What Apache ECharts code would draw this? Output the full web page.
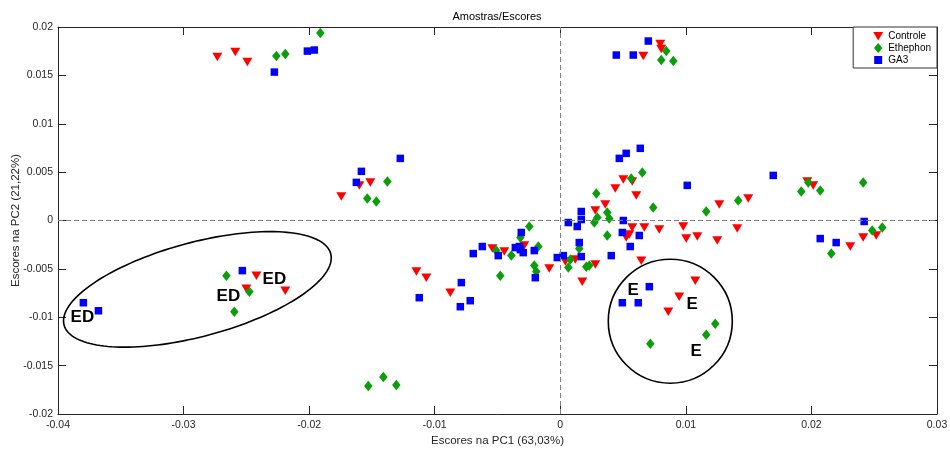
<!DOCTYPE html>
<html><head><meta charset="utf-8">
<script src="https://cdn.jsdelivr.net/npm/echarts@6/dist/echarts.min.js"></script>
<style>html,body{margin:0;padding:0;background:#fff}#c{width:950px;height:449px}</style>
</head><body><div id="c"></div>
<script>
// ---- data ----
const xTicks = [-0.04, -0.03, -0.02, -0.01, 0, 0.01, 0.02, 0.03];
const yTicks = [-0.02, -0.015, -0.01, -0.005, 0, 0.005, 0.01, 0.015, 0.02];
const seriesNames = ['Controle', 'Ethephon', 'GA3'];

const controle = [
  [-0.02731, 0.01689], [-0.02588, 0.01741], [-0.02492, 0.01637],
  [0.00796, 0.01824], [0.00804, 0.01772], [0.00661, 0.01699],
  [-0.01744, 0.00249], [-0.01600, 0.00363], [-0.01513, 0.00394],
  [-0.02500, -0.00705], [-0.02420, -0.00570], [-0.02190, -0.00725],
  [-0.01146, -0.00528], [-0.01067, -0.00591], [-0.00876, -0.00746],
  [-0.00541, -0.00290], [-0.00446, -0.00321], [-0.00287, -0.00259],
  [-0.00088, -0.00497], [0.00040, -0.00425], [0.00119, -0.00404],
  [0.00175, -0.00632], [0.00279, -0.00456], [0.00279, 0.00104],
  [0.00358, 0.00166], [0.00438, 0.00332], [0.00502, 0.00425],
  [0.00573, 0.00404], [0.00605, 0.00259], [0.00573, -0.00073],
  [0.00549, -0.00145], [0.00525, -0.00176], [0.00669, -0.00073],
  [0.00788, -0.00093], [0.00979, -0.00062], [0.01003, -0.00187],
  [0.01091, -0.00166], [0.01250, -0.00207], [0.01266, 0.00166],
  [0.01409, -0.00083], [0.01497, 0.00228], [0.01967, 0.00404],
  [0.02014, 0.00363], [0.02309, -0.00269], [0.02412, -0.00176],
  [0.02516, -0.00155], [0.00645, -0.00415], [0.01075, -0.00622],
  [0.00947, -0.00788], [0.00860, -0.00943]
];
const ethephon = [
  [-0.02261, 0.01699], [-0.02190, 0.01720], [-0.01911, 0.01938],
  [0.00844, 0.01751], [0.00804, 0.01658], [0.00900, 0.01648],
  [-0.01377, 0.00404], [-0.01537, 0.00228], [-0.01465, 0.00197],
  [-0.02659, -0.00570], [-0.02476, -0.00736], [-0.02596, -0.00943],
  [-0.01529, -0.01710], [-0.01409, -0.01617], [-0.01306, -0.01699],
  [-0.00478, -0.00570], [-0.00510, -0.00311], [-0.00390, -0.00363],
  [-0.00318, -0.00176], [-0.00247, -0.00062], [-0.00175, -0.00269],
  [-0.00207, -0.00466], [-0.00191, -0.00528], [0.00080, -0.00404],
  [0.00064, -0.00487], [0.00151, -0.00290], [0.00207, -0.00477],
  [0.00287, 0.00280], [0.00374, 0.00083], [0.00390, 0.00021],
  [0.00295, 0.00031], [0.00271, -0.00021], [0.00374, -0.00155],
  [0.00565, 0.00435], [0.00653, 0.00497], [0.00740, 0.00135],
  [0.01162, 0.00093], [0.01417, 0.00207], [0.01919, 0.00301],
  [0.01975, 0.00394], [0.02070, 0.00311], [0.02412, 0.00394],
  [0.02484, -0.00104], [0.02564, -0.00073], [0.02158, -0.00342],
  [0.00717, -0.01275], [0.01162, -0.01181], [0.01234, -0.01067],
  [0.00231, -0.00466]
];
const ga3 = [
  [-0.02277, 0.01534], [-0.02014, 0.01751], [-0.01959, 0.01762],
  [0.00701, 0.01855], [0.00446, 0.01710], [0.00581, 0.01710],
  [-0.01274, 0.00642], [-0.01584, 0.00508], [-0.01624, 0.00394],
  [-0.03798, -0.00850], [-0.03678, -0.00933], [-0.02532, -0.00518],
  [-0.01123, -0.00798], [-0.00788, -0.00642], [-0.00796, -0.00891],
  [-0.00717, -0.00829], [-0.00693, -0.00342], [-0.00621, -0.00269],
  [-0.00494, -0.00363], [-0.00358, -0.00280], [-0.00326, -0.00269],
  [-0.00311, -0.00124], [-0.00318, -0.00301], [-0.00295, -0.00332],
  [-0.00207, -0.00311], [-0.00199, -0.00591], [-0.00024, -0.00383],
  [0.00024, -0.00363], [0.00151, -0.00228], [0.00167, -0.00373],
  [0.00064, -0.00021], [0.00135, -0.00062], [0.00167, 0.00093],
  [0.00167, 0.00010], [0.00406, -0.00363], [0.00502, 0.00000],
  [0.00494, -0.00124], [0.00629, -0.00155], [0.00557, -0.00269],
  [0.00470, 0.00642], [0.00525, 0.00694], [0.00637, 0.00746],
  [0.01011, 0.00363], [0.01696, 0.00466], [0.02070, -0.00187],
  [0.02197, -0.00228], [0.02420, -0.00010], [0.00709, -0.00684],
  [0.00494, -0.00850], [0.00621, -0.00850]
];
// annotation labels (data coordinates)
const annotText = ['ED', 'ED', 'ED', 'E', 'E', 'E'];
const annotX = [-0.03806, -0.02643, -0.02277, 0.00581, 0.01051, 0.01083];
const annotY = [-0.01005, -0.00788, -0.00611, -0.00725, -0.00870, -0.01347];
// ---- end data ----

const FONT = 'Liberation Sans, Arial, Helvetica, sans-serif';
const AX = '#262626';
const triPath = 'path://M0,0L10,0L5,9Z';
const fmt = v => String(parseFloat(Number(v).toFixed(3)));

const chart = echarts.init(document.getElementById('c'), null, {renderer: 'canvas'});
const xAxisBase = {
  type: 'value', min: xTicks[0], max: xTicks[xTicks.length - 1], interval: 0.01,
  axisLine: {show: true, onZero: false, lineStyle: {color: AX, width: 1}},
  axisTick: {show: true, inside: true, length: 8, lineStyle: {color: AX}},
  splitLine: {show: false}
};
const yAxisBase = {
  type: 'value', min: yTicks[0], max: yTicks[yTicks.length - 1], interval: 0.005,
  axisLine: {show: true, onZero: false, lineStyle: {color: AX, width: 1}},
  axisTick: {show: true, inside: true, length: 8, lineStyle: {color: AX}},
  splitLine: {show: false}
};
const option = {
  animation: false,
  backgroundColor: '#fff',
  title: {
    text: 'Amostras/Escores', left: 497, top: 11, padding: 0, textAlign: 'center',
    textStyle: {fontFamily: FONT, fontSize: 11, fontWeight: 'normal', color: '#000'}
  },
  grid: {left: 58, right: 13, top: 27, bottom: 35, containLabel: false, outerBoundsMode: 'none'},
  legend: {
    orient: 'vertical', right: 13, top: 27, itemWidth: 10, itemHeight: 10, itemGap: 2,
    padding: [4, 6, 3, 20], borderColor: '#333', borderWidth: 1, backgroundColor: '#fff',
    borderRadius: 0,
    textStyle: {fontFamily: FONT, fontSize: 10, color: '#000'},
    data: [
      {name: seriesNames[0], icon: 'path://M0,0M10,10M0,1L10,1L5,9.5Z'},
      {name: seriesNames[1], icon: 'path://M0,0M10,10M5,0L9.2,5L5,10L0.8,5Z'},
      {name: seriesNames[2], icon: 'path://M0,0M10,10M1,1L9,1L9,9L1,9Z'}
    ]
  },
  xAxis: [
    Object.assign({}, xAxisBase, {
      position: 'bottom',
      name: 'Escores na PC1 (63,03%)', nameLocation: 'middle', nameGap: 21, nameMoveOverlap: false,
      nameTextStyle: {fontFamily: FONT, fontSize: 11.5, color: AX},
      axisLabel: {show: true, margin: 6, fontFamily: FONT, fontSize: 10.5, color: AX, formatter: fmt}
    }),
    Object.assign({}, xAxisBase, {position: 'top', axisLabel: {show: false}})
  ],
  yAxis: [
    Object.assign({}, yAxisBase, {
      position: 'left',
      name: 'Escores na PC2 (21,22%)', nameLocation: 'middle', nameGap: 36, nameMoveOverlap: false,
      nameTextStyle: {fontFamily: FONT, fontSize: 11.5, color: AX},
      axisLabel: {show: true, margin: 5, fontFamily: FONT, fontSize: 10.5, color: AX, formatter: fmt}
    }),
    Object.assign({}, yAxisBase, {position: 'right', axisLabel: {show: false}})
  ],
  series: [
    {
      name: seriesNames[0], type: 'scatter', data: controle,
      symbol: triPath, symbolSize: [10, 8.5], itemStyle: {color: '#ff0000', opacity: 1},
      markLine: {
        silent: true, symbol: ['none', 'none'], label: {show: false},
        lineStyle: {color: '#808080', type: [5, 3], width: 1},
        emphasis: {disabled: true},
        data: [{xAxis: 0}, {yAxis: 0}]
      }
    },
    {
      name: seriesNames[1], type: 'scatter', data: ethephon,
      symbol: 'diamond', symbolSize: [8.5, 10.5], itemStyle: {color: '#0a9f0a', opacity: 1}
    },
    {
      name: seriesNames[2], type: 'scatter', data: ga3,
      symbol: 'rect', symbolSize: [7.5, 7.5], itemStyle: {color: '#0000ff', opacity: 1}
    }
  ]
};
chart.setOption(option);

// annotations: ellipse (ED group), circle (E group), labels
const edCenter = [-0.02890, -0.00712];   // centre in data units
const edShape = {a: 138, b: 47, deg: 15}; // semi-axes in px, tilt
const eCenter = [0.00876, -0.01041];
const eRadius = 62;

function ellipsePts(cx, cy, a, b, deg) {
  const th = deg * Math.PI / 180, pts = [];
  for (let i = 0; i <= 160; i++) {
    const t = i / 160 * 2 * Math.PI;
    pts.push([
      cx + a * Math.cos(th) * Math.cos(t) - b * Math.sin(th) * Math.sin(t),
      cy - (a * Math.sin(th) * Math.cos(t) + b * Math.cos(th) * Math.sin(t))
    ]);
  }
  return pts;
}
const edPx = chart.convertToPixel({gridIndex: 0}, edCenter);
const ePx = chart.convertToPixel({gridIndex: 0}, eCenter);
const graphics = [
  {type: 'polyline', silent: true, z: 50,
   shape: {points: ellipsePts(edPx[0], edPx[1], edShape.a, edShape.b, edShape.deg)},
   style: {stroke: '#000', lineWidth: 1.6, fill: null}},
  {type: 'circle', silent: true, z: 50,
   shape: {cx: ePx[0], cy: ePx[1], r: eRadius},
   style: {stroke: '#000', lineWidth: 1.6, fill: null}}
];
annotText.forEach((t, i) => {
  const p = chart.convertToPixel({gridIndex: 0}, [annotX[i], annotY[i]]);
  graphics.push({
    type: 'text', silent: true, z: 60, x: p[0], y: p[1],
    style: {text: t, fontFamily: FONT, fontSize: 17, fontWeight: 'bold', fill: '#000',
            align: 'center', verticalAlign: 'middle'}
  });
});
chart.setOption({graphic: graphics});
</script>
</body></html>
